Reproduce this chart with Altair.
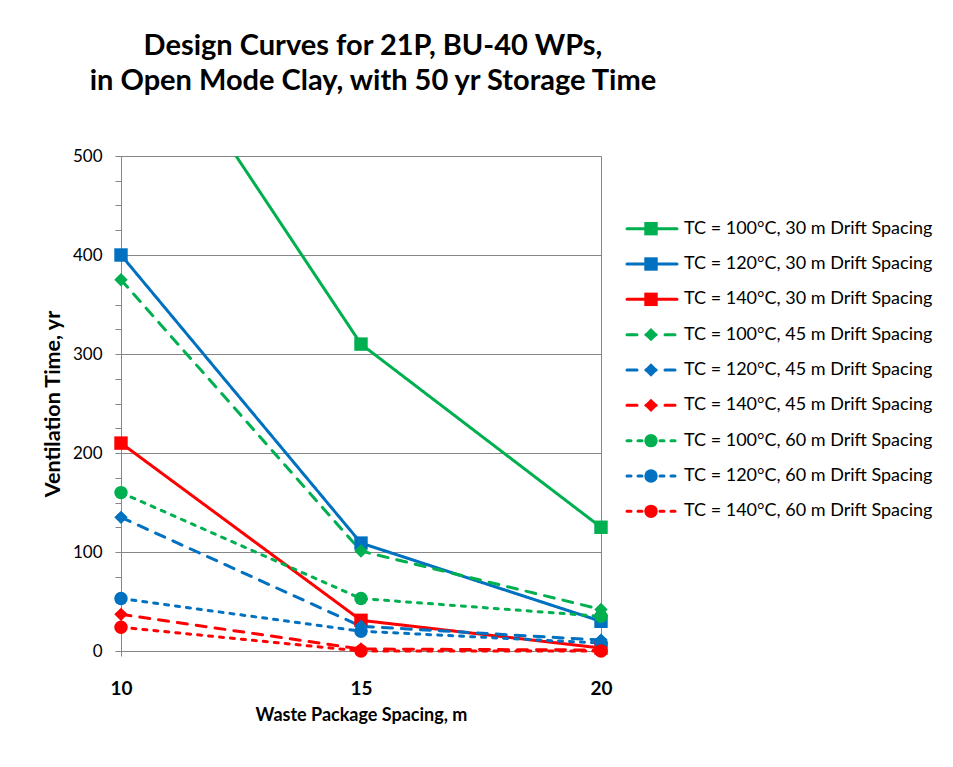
import altair as alt
import pandas as pd

# ---- data ----
spacing = [10, 15, 20]
series_names = [
    "TC = 100°C, 30 m Drift Spacing",
    "TC = 120°C, 30 m Drift Spacing",
    "TC = 140°C, 30 m Drift Spacing",
    "TC = 100°C, 45 m Drift Spacing",
    "TC = 120°C, 45 m Drift Spacing",
    "TC = 140°C, 45 m Drift Spacing",
    "TC = 100°C, 60 m Drift Spacing",
    "TC = 120°C, 60 m Drift Spacing",
    "TC = 140°C, 60 m Drift Spacing",
]
tc100_30 = [675, 310, 125]
tc120_30 = [400, 109, 30]
tc140_30 = [210, 31, 3]
tc100_45 = [375, 101, 42]
tc120_45 = [135, 25, 11]
tc140_45 = [37, 2, 1]
tc100_60 = [160, 53, 35]
tc120_60 = [53, 20, 8]
tc140_60 = [24, 0, 0]
all_values = [tc100_30, tc120_30, tc140_30, tc100_45, tc120_45, tc140_45,
              tc100_60, tc120_60, tc140_60]

# ---- styles ----
GREEN, BLUE, RED = "#00B050", "#0070C0", "#FF0000"
series_colors = [GREEN, BLUE, RED] * 3
series_dash = [[1, 0]] * 3 + [[10, 9]] * 3 + [[4, 7]] * 3
series_shape = ["square"] * 3 + ["diamond"] * 3 + ["circle"] * 3
series_size = [180] * 3 + [230] * 3 + [240] * 3
legend_size = [100] * 3 + [90] * 3 + [120] * 3

rows = []
for name, vals in zip(series_names, all_values):
    for x, v in zip(spacing, vals):
        rows.append({"spacing": x, "value": v, "series": name})
df = pd.DataFrame(rows)
leg = pd.DataFrame({"series": series_names})

FONT = "Lato"
color = alt.Color("series:N", scale=alt.Scale(domain=series_names, range=series_colors), legend=None)
dash = alt.StrokeDash("series:N", scale=alt.Scale(domain=series_names, range=series_dash), legend=None)
shape = alt.Shape("series:N", scale=alt.Scale(domain=series_names, range=series_shape), legend=None)
size = alt.Size("series:N", scale=alt.Scale(domain=series_names, range=series_size), legend=None)

xenc = alt.X("spacing:Q",
             scale=alt.Scale(domain=[10, 20], nice=False, zero=False),
             axis=alt.Axis(values=spacing, title="Waste Package Spacing, m",
                           grid=False, tickSize=5, labelPadding=23, labelFlush=False,
                           labelFont=FONT, labelFontSize=19, labelFontWeight="bold",
                           labelColor="#000000",
                           titleFont=FONT, titleFontSize=18, titleFontWeight="bold",
                           titlePadding=8, titleColor="#000000",
                           domainColor="#868686", tickColor="#868686"))
yenc = alt.Y("value:Q",
             scale=alt.Scale(domain=[0, 500], nice=False),
             axis=alt.Axis(values=list(range(0, 501, 25)),
                           labelExpr="datum.value % 100 == 0 ? datum.label : ''",
                           title="Ventilation Time, yr",
                           gridOpacity={"condition": {"test": "datum.value % 100 == 0", "value": 1}, "value": 0},
                           gridColor="#868686", tickSize=6, labelPadding=13,
                           labelFont=FONT, labelFontSize=17, labelColor="#000000",
                           titleFont=FONT, titleFontSize=21.5, titleFontWeight="bold",
                           titlePadding=8, titleColor="#000000",
                           domainColor="#868686", tickColor="#868686"))

base = alt.Chart(df).encode(x=xenc, y=yenc, color=color)
clip_test = "datum.series == '" + series_names[0] + "'"
lines_clip = base.transform_filter(clip_test).mark_line(strokeWidth=3, clip=True).encode(strokeDash=dash)
lines = base.transform_filter("!(" + clip_test + ")").mark_line(strokeWidth=3, strokeCap="round").encode(strokeDash=dash)
points = base.transform_filter("datum.value <= 500").mark_point(filled=True, opacity=1).encode(
    shape=shape, size=size)

main = alt.layer(lines_clip, lines, points).properties(width=480, height=495)

ly = alt.Y("series:N", scale=alt.Scale(domain=series_names, range=[55, 373]), axis=None)
lbase = alt.Chart(leg).encode(y=ly)
lrule = lbase.mark_rule(strokeWidth=3, strokeCap="round").encode(
    x=alt.value(2), x2=alt.value(52), strokeDash=dash, color=color)
lpt = lbase.mark_point(filled=True, opacity=1).encode(
    x=alt.value(26), shape=shape, color=color,
    size=alt.Size("series:N", scale=alt.Scale(domain=series_names, range=legend_size), legend=None))
ltxt = lbase.mark_text(align="left", baseline="middle", font=FONT, fontSize=18, color="#000000").encode(
    x=alt.value(59), text="series:N")
legend = alt.layer(lrule, lpt, ltxt).properties(width=300, height=495,
                                                 view=alt.ViewConfig(strokeOpacity=0))

chart = alt.hconcat(main, legend, spacing=12).properties(
    title=alt.TitleParams(
        text=["Design Curves for 21P, BU-40 WPs,", "in Open Mode Clay, with 50 yr Storage Time"],
        font=FONT, fontSize=29, fontWeight="bold", color="#000000",
        anchor="start", align="center", dx=331, lineHeight=35, offset=51),
    padding={"left": 33, "top": 23, "right": 5, "bottom": 5},
).configure_view(stroke="#868686")

chart.save("out.html", embed_options={"renderer": "svg", "actions": False})
